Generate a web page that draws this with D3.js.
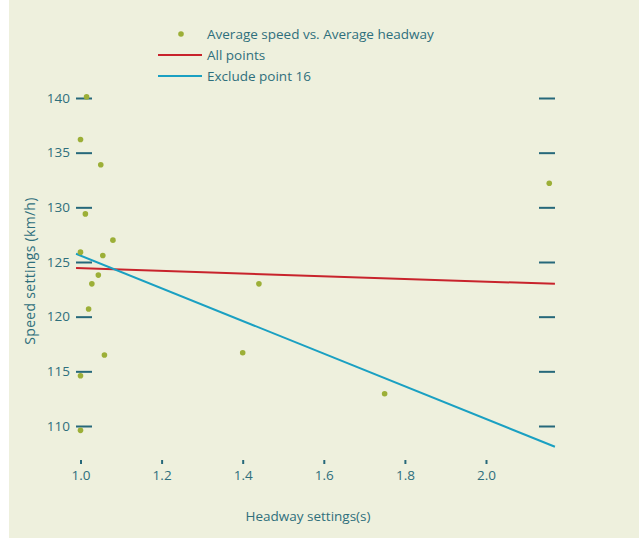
<!DOCTYPE html>
<html lang="en">
<head>
<meta charset="UTF-8">
<title>Speed vs headway</title>
<script src="https://cdn.jsdelivr.net/npm/d3@7"></script>
<style>
    body { margin: 0; background: #ffffff; }
    .axis text { font-family: "Open Sans", sans-serif; font-size: 13.5px; fill: #2e6f7c; }
    .axis line { stroke: #26687a; stroke-width: 2; }
    .axis path { display: none; }
    .lbl { font-family: "Open Sans", sans-serif; font-size: 13.5px; fill: #2e6f7c; }
</style>
</head>
<body>
<script>
// measured points (headway s, speed km/h)
const headway = [1.015, 1.0, 1.05, 1.012, 1.08, 1.0, 1.055, 1.044, 1.028, 1.02, 1.059, 1.0, 1.0, 1.44, 1.40, 1.75, 2.156];
const speed   = [140.1, 136.2, 133.9, 129.4, 127.0, 125.9, 125.6, 123.8, 123.0, 120.7, 116.5, 114.6, 109.6, 123.0, 116.7, 112.95, 132.2];

// fitted lines, read at both ends
const fitX = [0.989, 2.17];
const fitAll = [124.45, 123.0];
const fitExclude = [125.75, 108.1];

const xTicks = [1.0, 1.2, 1.4, 1.6, 1.8, 2.0];
const yTicks = [110, 115, 120, 125, 130, 135, 140];

const legendNames = ["Average speed vs. Average headway", "All points", "Exclude point 16"];

const W = 639, H = 538;
const svg = d3.select("body").append("svg").attr("width", W).attr("height", H);

svg.append("rect").attr("x", 9).attr("y", 0).attr("width", W - 9).attr("height", H).attr("fill", "#eef0dd");

const x = d3.scaleLinear().domain([1.0, 2.0]).range([80.5, 486]);
const y = d3.scaleLinear().domain([110, 140]).range([426, 98]);

svg.append("g").attr("class", "axis")
    .attr("transform", "translate(92,0)")
    .call(d3.axisLeft(y).tickValues(yTicks).tickSize(16).tickPadding(6).tickFormat(d3.format("d")));

svg.append("g").attr("class", "axis")
    .attr("transform", "translate(539,0)")
    .call(d3.axisRight(y).tickValues(yTicks).tickSize(16).tickFormat(""));

svg.append("g").attr("class", "axis")
    .attr("transform", "translate(0,460)")
    .call(d3.axisBottom(x).tickValues(xTicks).tickSize(4).tickPadding(6).tickFormat(d3.format(".1f")))
    .selectAll("line").attr("stroke-width", 1.5);

const line = d3.line().x(d => x(d[0])).y(d => y(d[1]));

svg.append("path")
    .attr("d", line(d3.zip(fitX, fitAll)))
    .attr("fill", "none").attr("stroke", "#c8232c").attr("stroke-width", 2);

svg.append("path")
    .attr("d", line(d3.zip(fitX, fitExclude)))
    .attr("fill", "none").attr("stroke", "#1aa0c2").attr("stroke-width", 2);

svg.selectAll("circle.pt")
    .data(d3.zip(headway, speed))
    .enter()
    .append("circle")
    .attr("class", "pt")
    .attr("cx", d => x(d[0]))
    .attr("cy", d => y(d[1]))
    .attr("r", 2.8)
    .attr("fill", "#9caf37");

// axis titles
svg.append("text").attr("class", "lbl")
    .attr("x", 308).attr("y", 521)
    .attr("text-anchor", "middle")
    .text("Headway settings(s)");

svg.append("text").attr("class", "lbl")
    .attr("transform", "translate(35,271) rotate(-90)")
    .attr("text-anchor", "middle")
    .style("font-size", "14px")
    .style("letter-spacing", "0.3px")
    .text("Speed settings (km/h)");

// legend
const leg = svg.append("g").attr("transform", "translate(158,34)");
leg.append("circle").attr("cx", 23).attr("cy", 0).attr("r", 2.8).attr("fill", "#9caf37");
leg.append("line").attr("x1", 0).attr("x2", 44).attr("y1", 21).attr("y2", 21)
    .attr("stroke", "#c8232c").attr("stroke-width", 2);
leg.append("line").attr("x1", 0).attr("x2", 44).attr("y1", 42).attr("y2", 42)
    .attr("stroke", "#1aa0c2").attr("stroke-width", 2);
leg.selectAll("text.leg")
    .data(legendNames)
    .enter()
    .append("text")
    .attr("class", "lbl leg")
    .attr("x", 49)
    .attr("y", (d, i) => i * 21 + 5)
    .text(d => d);
</script>
</body>
</html>
